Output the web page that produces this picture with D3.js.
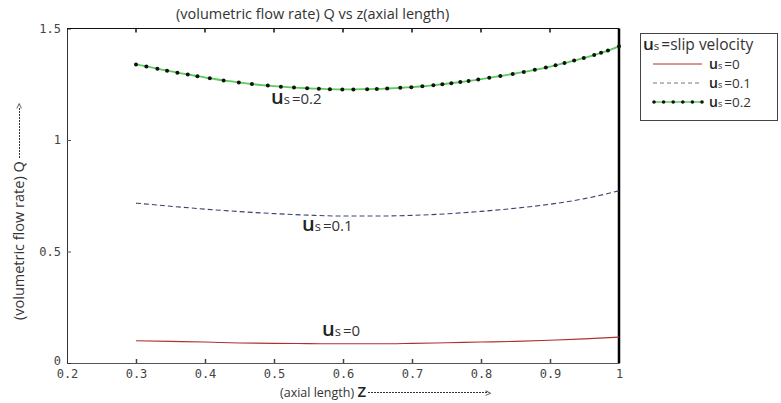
<!DOCTYPE html>
<html>
<head>
<meta charset="utf-8">
<script src="https://cdn.jsdelivr.net/npm/d3@7/dist/d3.min.js"></script>
<style>
  body { margin: 0; background: #fff; }
  svg text { font-family: "Open Sans", sans-serif; }
  .tick-label { font-family: "DejaVu Sans Mono", monospace; font-size: 12px; fill: #444; }
</style>
</head>
<body>
<div id="chart"></div>
<script>
// axis ticks
const xTicks = [0.2, 0.3, 0.4, 0.5, 0.6, 0.7, 0.8, 0.9, 1];
const yTicks = [0, 0.5, 1, 1.5];

// us = 0 and us = 0.1
const zSmooth = [0.3, 0.35, 0.4, 0.45, 0.5, 0.55, 0.6, 0.65, 0.7, 0.75, 0.8, 0.85, 0.9, 0.95, 1.0];
const qUs0 = [0.100, 0.097, 0.094, 0.090, 0.088, 0.087, 0.086, 0.086, 0.088, 0.091, 0.094, 0.097, 0.102, 0.108, 0.116];
const qUs01 = [0.717, 0.703, 0.690, 0.679, 0.670, 0.663, 0.659, 0.659, 0.662, 0.669, 0.680, 0.694, 0.712, 0.737, 0.772];

// us = 0.2 (solver points, irregular spacing)
const zUs02 = [0.300, 0.315, 0.331, 0.345, 0.360, 0.375, 0.389, 0.407, 0.427, 0.449, 0.468, 0.491, 0.510, 0.529, 0.548, 0.565, 0.581, 0.599, 0.615, 0.635, 0.649,
               0.664, 0.683, 0.699, 0.715, 0.731, 0.744, 0.757, 0.770, 0.782, 0.796, 0.812, 0.828, 0.846, 0.862, 0.878, 0.894, 0.908, 0.921, 0.935, 0.949, 0.964, 0.974, 0.984, 1.000];
const qUs02 = [1.339, 1.330, 1.320, 1.311, 1.302, 1.294, 1.286, 1.277, 1.267, 1.258, 1.251, 1.244, 1.239, 1.235, 1.232, 1.230, 1.228, 1.227, 1.227, 1.228, 1.229,
               1.231, 1.234, 1.237, 1.241, 1.246, 1.250, 1.255, 1.260, 1.265, 1.271, 1.279, 1.287, 1.296, 1.305, 1.315, 1.325, 1.335, 1.345, 1.356, 1.368, 1.381, 1.391, 1.401, 1.420];

const W = 781, H = 403;
const svg = d3.select("#chart").append("svg").attr("width", W).attr("height", H);

const x = d3.scaleLinear().domain([0.2, 1]).range([67, 619]);
const y = d3.scaleLinear().domain([0, 1.5]).range([363, 28.5]);

// title
svg.append("text")
    .attr("x", 176).attr("y", 19)
    .attr("font-size", 14.5).attr("fill", "#333")
    .text("(volumetric flow rate) Q vs z(axial length)");

// bottom axis
const xAxis = svg.append("g").attr("transform", "translate(0," + y(0) + ")")
    .call(d3.axisBottom(x).tickValues(xTicks).tickSize(-4).tickFormat(d3.format("")));
xAxis.select(".domain").attr("stroke", "#555");
xAxis.selectAll(".tick line").attr("stroke", "#444").attr("stroke-width", 1.5)
    .filter(d => d === 0.2 || d === 1).remove();
xAxis.selectAll(".tick text").attr("class", "tick-label").attr("y", 6).attr("dy", "0.71em")
    .attr("font-family", null).attr("font-size", null).attr("fill", null);

// left axis
const yAxis = svg.append("g").attr("transform", "translate(" + x(0.2) + ",0)")
    .call(d3.axisLeft(y).tickValues(yTicks).tickSize(-4).tickFormat(d3.format("")));
yAxis.select(".domain").attr("stroke", "#333");
yAxis.selectAll(".tick line").attr("stroke", "#555")
    .filter(d => d === 0 || d === 1.5).remove();
yAxis.selectAll(".tick text").attr("class", "tick-label").attr("x", -6)
    .attr("font-family", null).attr("font-size", null).attr("fill", null);
yAxis.selectAll(".tick text").filter(d => d === 0).attr("y", -2);

// top border with inward ticks
svg.append("line").attr("x1", x(0.2)).attr("x2", x(1)).attr("y1", y(1.5)).attr("y2", y(1.5))
    .attr("stroke", "#111").attr("stroke-width", 1.2);
svg.append("g").selectAll("line").data(xTicks.filter(d => d > 0.2 && d < 1)).join("line")
    .attr("x1", d => x(d)).attr("x2", d => x(d))
    .attr("y1", y(1.5)).attr("y2", y(1.5) + 4)
    .attr("stroke", "#111").attr("stroke-width", 1.5);
// right border
svg.append("line").attr("x1", x(1)).attr("x2", x(1)).attr("y1", y(1.5)).attr("y2", y(0))
    .attr("stroke", "#000").attr("stroke-width", 2.5);

// curves
const line = d3.line().x(d => x(d[0])).y(d => y(d[1])).curve(d3.curveMonotoneX);
const s0 = zSmooth.map((z, i) => [z, qUs0[i]]);
const s1 = zSmooth.map((z, i) => [z, qUs01[i]]);
const s2 = zUs02.map((z, i) => [z, qUs02[i]]);

svg.append("path").datum(s0).attr("d", line)
    .attr("fill", "none").attr("stroke", "#b03030").attr("stroke-width", 1.1);
svg.append("path").datum(s1).attr("d", line)
    .attr("fill", "none").attr("stroke", "#3c4270").attr("stroke-width", 1.1)
    .attr("stroke-dasharray", "5,3");
svg.append("path").datum(s2).attr("d", line)
    .attr("fill", "none").attr("stroke", "#5ccc5c").attr("stroke-width", 1.8);
svg.append("g").selectAll("circle").data(s2).join("circle")
    .attr("cx", d => x(d[0])).attr("cy", d => y(d[1])).attr("r", 2)
    .attr("fill", "#111");

// "us=..." label helper
function usLabel(g, px, py, val, big, rest) {
    const t = g.append("text").attr("x", px).attr("y", py).attr("fill", "#222");
    t.append("tspan").attr("font-size", big).attr("font-weight", 600).text("u");
    t.append("tspan").attr("font-size", big * 0.65).attr("fill", "#333").text("s");
    t.append("tspan").attr("font-size", rest).attr("fill", "#333").attr("dx", 2).text("=" + val);
    return t;
}

usLabel(svg, 271, 104, "0.2", 20, 15);
usLabel(svg, 302, 231, "0.1", 20, 15);
usLabel(svg, 322, 336, "0", 20, 15);

// legend
const lg = svg.append("g");
lg.append("rect").attr("x", 640.5).attr("y", 33.5).attr("width", 137).attr("height", 87)
    .attr("fill", "#fff").attr("stroke", "#444");
const lt = lg.append("text").attr("x", 643).attr("y", 50).attr("fill", "#222");
lt.append("tspan").attr("font-size", 17).attr("font-weight", 600).text("u");
lt.append("tspan").attr("font-size", 11.5).attr("fill", "#333").text("s");
lt.append("tspan").attr("font-size", 15.5).attr("fill", "#333").attr("dx", 2).text("=slip velocity");

const legendRows = [
    {val: "0", cy: 64, stroke: "#b03030", dash: null, dots: false},
    {val: "0.1", cy: 83, stroke: "#777", dash: "4,3", dots: false},
    {val: "0.2", cy: 102, stroke: "#5ccc5c", dash: null, dots: true}
];
legendRows.forEach(r => {
    lg.append("line").attr("x1", 653).attr("x2", 702).attr("y1", r.cy).attr("y2", r.cy)
        .attr("stroke", r.stroke).attr("stroke-width", r.dots ? 1.5 : 1)
        .attr("stroke-dasharray", r.dash);
    if (r.dots) {
        lg.append("g").selectAll("circle").data(d3.range(6)).join("circle")
            .attr("cx", i => 654 + i * 9.6).attr("cy", r.cy).attr("r", 1.8).attr("fill", "#111");
    }
    usLabel(lg, 709, r.cy + 4.5, r.val, 14, 13.5);
});

// x-axis label with dotted arrow
svg.append("text").attr("x", 280).attr("y", 397).attr("font-size", 12.5).attr("fill", "#333")
    .text("(axial length) ")
    .append("tspan").attr("font-size", 15).attr("font-weight", 600).attr("fill", "#222").text("Z");
svg.append("line").attr("x1", 368).attr("x2", 487).attr("y1", 392.5).attr("y2", 392.5)
    .attr("stroke", "#333").attr("stroke-dasharray", "2,1");
svg.append("text").attr("x", 485).attr("y", 396.5).attr("font-size", 11).attr("fill", "#333").text(">");

// y-axis label with dotted arrow
const yl = svg.append("g").attr("transform", "translate(24,320) rotate(-90)");
yl.append("text").attr("x", 0).attr("y", 0).attr("font-size", 14.5).attr("fill", "#333")
    .text("(volumetric flow rate) Q");
yl.append("line").attr("x1", 162).attr("x2", 212).attr("y1", -4.5).attr("y2", -4.5)
    .attr("stroke", "#333").attr("stroke-dasharray", "2,1");
yl.append("text").attr("x", 211).attr("y", -1).attr("font-size", 11).attr("fill", "#333").text(">");
</script>
</body>
</html>
